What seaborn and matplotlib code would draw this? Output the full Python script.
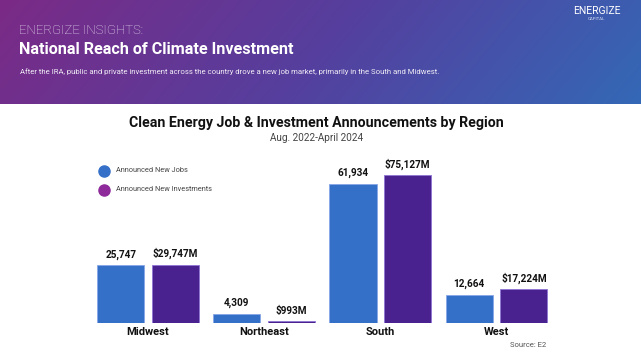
import numpy as np
import pandas as pd
import matplotlib
matplotlib.use("Agg")
import matplotlib.pyplot as plt
import seaborn as sns
from matplotlib.colors import LinearSegmentedColormap
from matplotlib.lines import Line2D

# ---- data ----
regions = ["Midwest", "Northeast", "South", "West"]
jobs = [25747, 4309, 61934, 12664]
investments = [29747, 993, 75127, 17224]  # $ millions
series = ["Announced New Jobs", "Announced New Investments"]
job_labels = ["25,747", "4,309", "61,934", "12,664"]
inv_labels = ["$29,747M", "$993M", "$75,127M", "$17,224M"]

BLUE = "#3570C8"
PURPLE = "#4A2290"

sns.set_theme(style="white")
plt.rcParams["font.family"] = ["Roboto", "DejaVu Sans"]

W, H = 641, 356
fig = plt.figure(figsize=(W / 100, H / 100), dpi=100)
fig.patch.set_facecolor("white")

def fx(x):
    return x / W

def fy(y):
    return 1 - y / H

# ---- header gradient ----
band_h = 104
hax = fig.add_axes([0, fy(band_h), 1, band_h / H])
gx, gy = np.meshgrid(np.linspace(0, 1, 400), np.linspace(0, 1, 60))
grad = 0.88 * gx + 0.12 * gy
cmap = LinearSegmentedColormap.from_list("hdr", ["#7B2A86", "#553F9E", "#3468B6"])
hax.imshow(grad, cmap=cmap, aspect="auto", extent=[0, 1, 1, 0], vmin=0, vmax=1)
hax.set_axis_off()

fig.text(fx(19), fy(31), "ENERGIZE INSIGHTS:", color="#E6E0F0", fontsize=9.5,
         fontweight="light", va="center", ha="left")
fig.text(fx(19), fy(49), "National Reach of Climate Investment", color="white",
         fontsize=11.6, fontweight="bold", va="center", ha="left")
fig.text(fx(20), fy(72), "After the IRA, public and private investment across the country drove a new job market, primarily in the South and Midwest.",
         color="#F0ECF6", fontsize=5.6, va="center", ha="left")
fig.text(fx(597), fy(11), "ENERGIZE", color="white", fontsize=7.5, va="center", ha="center")
fig.text(fx(597), fy(18.5), "CAPITAL", color="#DDE3F5", fontsize=3.2, va="center", ha="center")

# ---- chart titles ----
fig.text(fx(316.5), fy(123), "Clean Energy Job & Investment Announcements by Region",
         color="#111111", fontsize=10.2, fontweight="bold", va="center", ha="center")
fig.text(fx(316.5), fy(138), "Aug. 2022-April 2024", color="#444444", fontsize=7.2,
         va="center", ha="center")

# ---- bars ----
df_jobs = pd.DataFrame({"region": regions, "value": jobs, "series": series[0]})
df_inv = pd.DataFrame({"region": regions, "value": investments, "series": series[1]})

left_px, right_px = 89.9, 554.6
base_px, top_px = 323.3, 165.8
ax = fig.add_axes([fx(left_px), fy(base_px), (right_px - left_px) / W, (base_px - top_px) / H])
ax2 = ax.twinx()
pal = {series[0]: BLUE, series[1]: PURPLE}

sns.barplot(data=df_jobs, x="region", y="value", hue="series", hue_order=series,
            order=regions, palette=pal, saturation=1, width=0.942, gap=0.14, dodge=True,
            ax=ax, legend=False, edgecolor="#86A6E6", linewidth=0.6)
sns.barplot(data=df_inv, x="region", y="value", hue="series", hue_order=series,
            order=regions, palette=pal, saturation=1, width=0.942, gap=0.14, dodge=True,
            ax=ax2, legend=False, edgecolor="#8E74D4", linewidth=0.6)

ax.set_ylim(0, 70000)
ax2.set_ylim(0, 80000)
ax.set_xlim(-0.5, 3.5)

for a in (ax, ax2):
    a.set_facecolor("none")
    for s in a.spines.values():
        s.set_visible(False)
    a.set_yticks([])
    a.set_ylabel("")
    a.set_xlabel("")

ax.tick_params(axis="x", length=0, pad=3)
ax.set_xticks(range(len(regions)))
ax.set_xticklabels(regions, fontsize=8, fontweight="bold", color="#111111")
ax2.tick_params(axis="x", length=0)

def real_container(a):
    for c in a.containers:
        if len(c) and all(p is not None for p in c):
            return c
    return None

ax.bar_label(real_container(ax), labels=job_labels, padding=4, fontsize=7.2,
             fontweight="bold", color="#111111")
ax2.bar_label(real_container(ax2), labels=inv_labels, padding=4, fontsize=7.2,
              fontweight="bold", color="#111111")

# ---- legend ----
for yy, col, lab in [(171, BLUE, series[0]), (189.5, "#8E2A9A", series[1])]:
    fig.add_artist(Line2D([fx(104.5)], [fy(yy)], marker="o", markersize=8,
                          color=col, linestyle="none", transform=fig.transFigure))
    fig.text(fx(116), fy(yy), lab, fontsize=5.3, color="#444444", va="center", ha="left")

fig.text(fx(546), fy(345), "Source: E2", fontsize=5.5, color="#555555", va="center", ha="right")

fig.savefig("out.png", dpi=100, facecolor="white")
